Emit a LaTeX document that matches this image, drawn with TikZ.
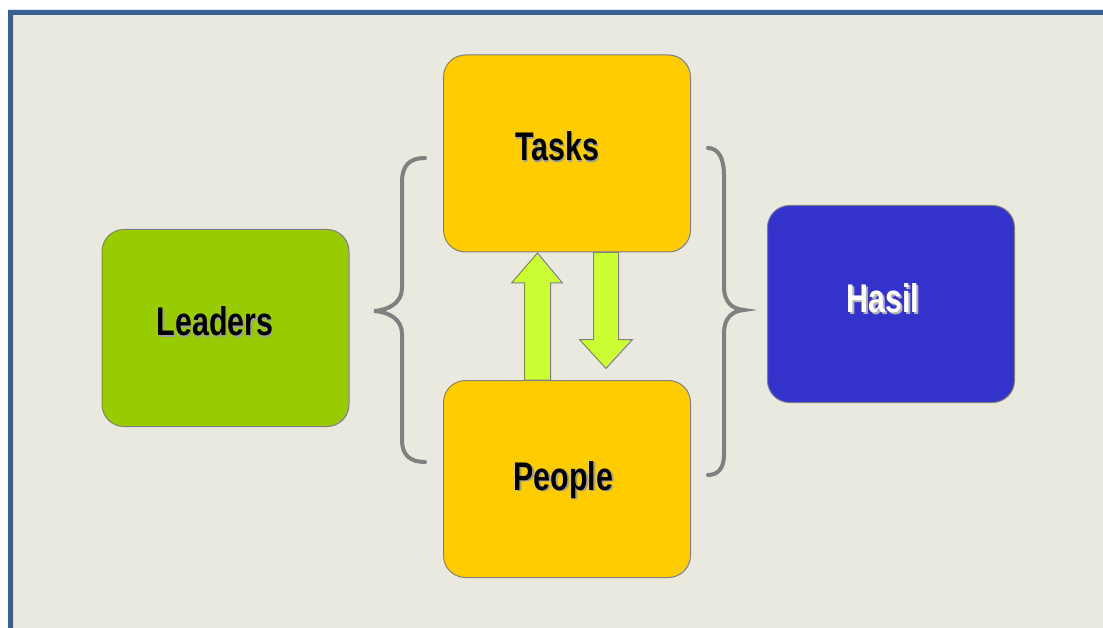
\documentclass[tikz,border=0pt]{standalone}
\usepackage{fontspec}
\usepackage{tikz}
\usetikzlibrary{calc, arrows}
\newfontfamily\boxfont[FakeStretch=0.76]{Liberation Sans}
\definecolor{leadgreen}{HTML}{99CC00}
\definecolor{taskyellow}{HTML}{FFCC00}
\definecolor{hasilblue}{HTML}{3333CC}
\definecolor{arrowlime}{HTML}{CCFF33}
\definecolor{bracegray}{HTML}{808080}
\definecolor{bgbeige}{HTML}{EAE9DF}
\definecolor{frameblue}{HTML}{386090}
\newcommand{\shadowed}[2][gray!75]{\makebox[0pt][l]{\hspace{1.6pt}\raisebox{-1.6pt}{\color{#1}#2}}#2}
\tikzstyle{box}=[draw=gray, line width=1pt, rounded corners=22pt, minimum width=247pt, minimum height=197pt]
\tikzstyle{boxtext}=[font=\boxfont\bfseries\fontsize{40}{40}\selectfont, text height=29pt, text depth=0pt, inner sep=0pt]
\tikzstyle{blockarrow}=[draw=gray, line width=1pt, fill=arrowlime, line join=miter]
\tikzstyle{brace}=[draw=bracegray, line width=4pt, line cap=round]

\begin{document}
\begin{tikzpicture}[x=1pt,y=-1pt,node distance=325.5pt,>=latex']
      \useasboundingbox (0,0) rectangle (1103,628);
      \fill[white] (0,0) rectangle (1103,628);
      \fill[bgbeige] (13,15) rectangle (1103,628);
      \fill[frameblue] (8,10) rectangle (1103,15) (8,10) rectangle (13,628);
      \node [box, fill=leadgreen, label={[boxtext, xshift=-10.5pt, yshift=7pt]center:\shadowed{Leaders}}] (leaders) at (225.5,328) {};
      \node [box, fill=taskyellow, label={[boxtext, xshift=-10pt, yshift=7pt]center:\shadowed{Tasks}}] (tasks) at (567,153.5) {};
      \node [box, fill=taskyellow, below of=tasks, label={[boxtext, xshift=-3.5pt, yshift=3.5pt]center:\shadowed{People}}] (people) {};
      \node [box, fill=hasilblue, label={[boxtext, text=white, xshift=-8pt, yshift=6pt]center:\shadowed[gray!60]{Hasil}}] (hasil) at (891,304) {};
      % people -> tasks, tasks -> people
      \draw[blockarrow] ($(people.north)+(-42.5,0)$) -- ++(0,-97) -- ++(-13,0) -- ++(26,-30) -- ++(25,30) -- ++(-12,0) -- ++(0,97) -- cycle;
      \draw[blockarrow] ($(tasks.south)+(26.5,0)$) -- ++(0,87) -- ++(-14,0) -- ++(26.5,29) -- ++(26.5,-29) -- ++(-14,0) -- ++(0,-87) -- cycle;
      % braces
      \draw[brace] (425,158) .. controls (410,158) and (402,165) .. (402,182) -- (402,288) .. controls (402,302) and (390,310) .. (374,311) .. controls (390,312) and (402,320) .. (402,334) -- (402,440) .. controls (402,455) and (410,462) .. (425,462);
      \draw[brace] (708,148) .. controls (718,148) and (724,158) .. (724,175) -- (724,287) .. controls (724,302) and (732,309) .. (744,310) .. controls (732,311) and (724,318) .. (724,333) -- (724,455) .. controls (724,468) and (718,475) .. (708,475);
  \end{tikzpicture}
\end{document}
